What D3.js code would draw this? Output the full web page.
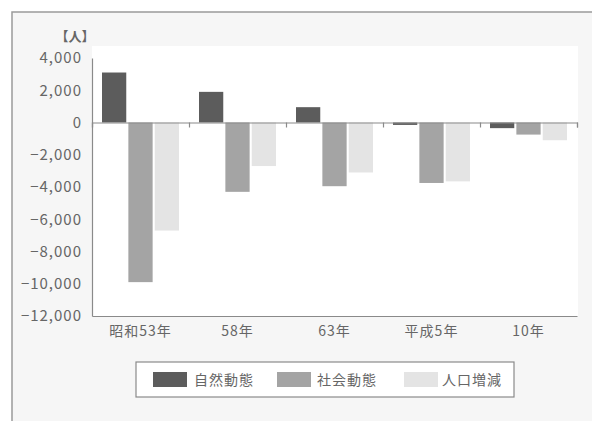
<!DOCTYPE html>
<html>
<head>
<meta charset="utf-8">
<script src="https://cdn.jsdelivr.net/npm/d3@7/dist/d3.min.js"></script>
<style>
  html, body { margin: 0; padding: 0; background: #ffffff; }
  svg { display: block; }
  text { font-family: "Noto Sans CJK JP", "Noto Sans", sans-serif; fill: #666; }
</style>
</head>
<body>
<svg id="chart" width="592" height="421"></svg>
<script>
// Population change by period (persons)
const categories = ["昭和53年", "58年", "63年", "平成5年", "10年"];
const seriesNames = ["自然動態", "社会動態", "人口増減"];
const naturalChange = [3100, 1900, 950, -150, -350];
const socialChange = [-9900, -4300, -3950, -3750, -750];
const totalChange = [-6700, -2700, -3100, -3650, -1100];
const yTicks = [4000, 2000, 0, -2000, -4000, -6000, -8000, -10000, -12000];
const unitLabel = "【人】";

const seriesValues = [naturalChange, socialChange, totalChange];
const colors = ["#5c5c5c", "#a4a4a4", "#e4e4e4"];
const textColor = "#666";

const svg = d3.select("#chart");

// panel background and frame
svg.append("rect").attr("x", 12).attr("y", 12).attr("width", 600).attr("height", 430)
  .attr("fill", "#f6f6f6").attr("stroke", "#9a9a9a").attr("stroke-width", 1.5);

const plot = { left: 92, right: 577, top: 58, bottom: 316 };

svg.append("rect").attr("x", plot.left).attr("y", 46)
  .attr("width", plot.right - plot.left + 1).attr("height", plot.bottom - 46)
  .attr("fill", "#ffffff");

const x = d3.scaleBand().domain(categories).range([plot.left, plot.right]).padding(0);
const xInner = d3.scaleBand().domain(seriesNames)
  .range([10, x.bandwidth() - 10]).paddingInner(0.08);
const y = d3.scaleLinear().domain([-12000, 4000]).range([plot.bottom, plot.top]);

// bars
const groups = svg.append("g").selectAll("g")
  .data(categories)
  .join("g")
  .attr("transform", d => `translate(${x(d)},0)`);

groups.selectAll("rect")
  .data((c, i) => seriesNames.map((s, k) => ({ s, k, v: seriesValues[k][i] })))
  .join("rect")
  .attr("x", d => xInner(d.s))
  .attr("width", xInner.bandwidth())
  .attr("y", d => y(Math.max(0, d.v)))
  .attr("height", d => Math.abs(y(d.v) - y(0)))
  .attr("fill", d => colors[d.k]);

// zero line with category separators
const boundaries = categories.map(c => x(c)).concat([plot.right]);
const zeroAxis = d3.axisBottom(d3.scaleLinear().domain([plot.left, plot.right]).range([plot.left, plot.right]))
  .tickValues(boundaries).tickSize(5).tickFormat("");
svg.append("g").attr("transform", `translate(0,${y(0)})`).call(zeroAxis)
  .call(g => g.selectAll("path,line").attr("stroke", "#8a8a8a").attr("stroke-width", 1.2));

// bottom axis with category labels
const xAxis = d3.axisBottom(x).tickSize(0).tickPadding(10);
svg.append("g").attr("transform", `translate(0,${plot.bottom})`).call(xAxis)
  .call(g => g.select(".domain").attr("stroke", "#8a8a8a").attr("stroke-width", 1.2))
  .call(g => g.selectAll("text").style("font-size", "14px").style("letter-spacing", "1px")
    .attr("fill", textColor).style("font-family", '"Noto Sans CJK JP", sans-serif'));

// left axis
const yAxis = d3.axisLeft(y).tickValues(yTicks).tickSize(0).tickPadding(10)
  .tickFormat(d3.format(","));
svg.append("g").attr("transform", `translate(${plot.left},0)`).call(yAxis)
  .call(g => g.select(".domain").attr("stroke", "#8a8a8a").attr("stroke-width", 1.2))
  .call(g => g.selectAll("text").style("font-size", "15px").style("letter-spacing", "1px")
    .attr("fill", textColor).style("font-family", '"Noto Sans CJK JP", sans-serif'));

// unit label
svg.append("text").attr("x", 75).attr("y", 41).attr("text-anchor", "middle")
  .style("font-size", "13px").style("font-weight", "bold").attr("fill", "#555")
  .text(unitLabel);

// legend
const legend = svg.append("g");
legend.append("rect").attr("x", 136).attr("y", 362).attr("width", 378).attr("height", 35)
  .attr("fill", "#ffffff").attr("stroke", "#8a8a8a").attr("stroke-width", 1.2);
const legendSwatchX = [153, 277, 404];
const legendTextX = [194, 317, 442];
seriesNames.forEach((name, k) => {
  legend.append("rect").attr("x", legendSwatchX[k]).attr("y", 372)
    .attr("width", 34).attr("height", 15).attr("fill", colors[k]);
  legend.append("text").attr("x", legendTextX[k]).attr("y", 385)
    .style("font-size", "14px").style("letter-spacing", "1px").attr("fill", "#555").text(name);
});
</script>
</body>
</html>
